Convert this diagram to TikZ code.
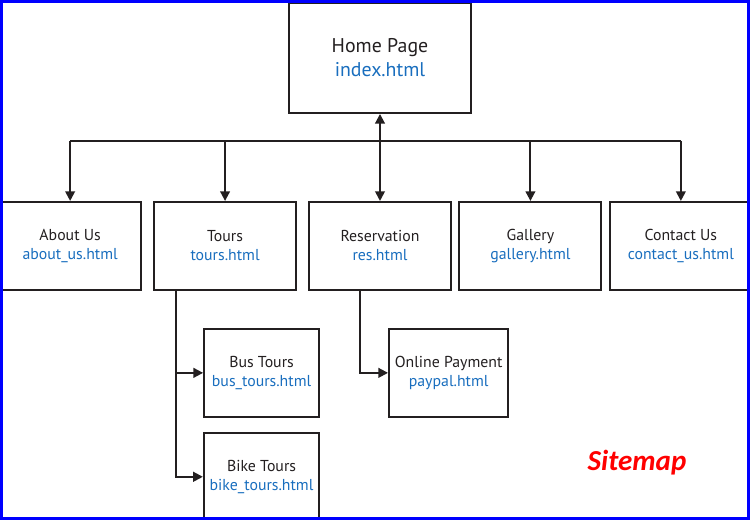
\documentclass[tikz,border=0pt]{standalone}
\usepackage{fontspec}
\setmainfont{PT Sans}
\newfontfamily\titlefont{Carlito}
\usepackage{xcolor}
\usepackage{tikz}
\usetikzlibrary{arrows.meta,positioning}
\definecolor{mapink}{RGB}{35,31,32}
\definecolor{mapfile}{RGB}{25,110,190}
\definecolor{mapframe}{RGB}{0,0,255}

\begin{document}
\begin{tikzpicture}[
    >={Triangle[width=5.5pt,length=5.5pt]},
    home/.style={rectangle, draw=mapink, line width=1.1pt, minimum width=3.64cm, minimum height=2.2cm, align=center, font=\fontsize{11.3}{13.6}\selectfont, text=mapink},
    page/.style={rectangle, draw=mapink, line width=1.1pt, minimum width=2.84cm, minimum height=1.76cm, align=center, font=\fontsize{9}{10.8}\selectfont, text=mapink},
    subpage/.style={page, minimum width=2.3cm},
    arrow/.style={->, line width=1.1pt, mapink}
]
\useasboundingbox (0,0) rectangle (15,-10.4);

% Home
\node[home] (home) at (7.6,-1.16) {Home Page\\\textcolor{mapfile}{index.html}};

% Pages
\node[page, below=1.74cm of home] (res) {Reservation\\\textcolor{mapfile}{res.html}};
\node[page, left=0.22cm of res] (tours) {Tours\\\textcolor{mapfile}{tours.html}};
\node[page, left=0.22cm of tours] (about) {About Us\\\textcolor{mapfile}{about\_us.html}};
\node[page, right=0.13cm of res] (gallery) {Gallery\\\textcolor{mapfile}{gallery.html}};
\node[page, right=0.13cm of gallery] (contact) {Contact Us\\\textcolor{mapfile}{contact\_us.html}};

% Sub pages
\node[subpage, below right=0.74cm and 1cm of tours.south west] (bustours) {Bus Tours\\\textcolor{mapfile}{bus\_tours.html}};
\node[subpage, below=0.28cm of bustours] (biketours) {Bike Tours\\\textcolor{mapfile}{bike\_tours.html}};
\node[subpage, below right=0.74cm and 1.6cm of res.south west] (paypal) {Online Payment\\\textcolor{mapfile}{paypal.html}};

% Arrows
\coordinate (bus) at (0,-2.82);
\draw[line width=1.1pt, mapink] (about.north |- bus) -- (contact.north |- bus);
\draw[arrow, <->] (home.south) -- (res.north);
\foreach \p in {about,tours,gallery,contact} {
    \draw[arrow] (\p.north |- bus) -- (\p.north);
}
\draw[arrow] ([xshift=0.46cm]tours.south west) |- (bustours.west);
\draw[arrow] ([xshift=0.46cm]tours.south west) |- (biketours.west);
\draw[arrow] ([xshift=1.04cm]res.south west) |- (paypal.west);

% Label
\node[font=\titlefont\bfseries\itshape\fontsize{16.5}{18}\selectfont, text=red] (sitemap) at (12.74,-9.26) {Sitemap};

% Frame
\draw[mapframe, line width=1.8pt] (0.03,-0.03) rectangle (14.97,-10.37);

\end{tikzpicture}
\end{document}
